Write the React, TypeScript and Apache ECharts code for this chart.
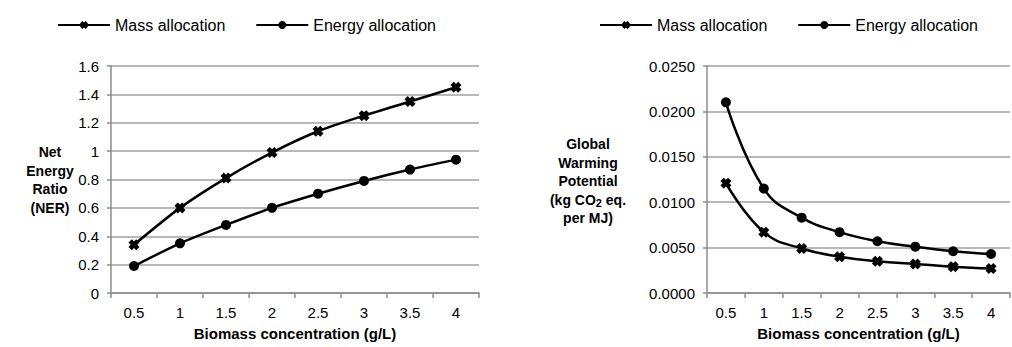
import React, { useEffect, useRef } from "react";
import * as echarts from "echarts";

const categories = ["0.5", "1", "1.5", "2", "2.5", "3", "3.5", "4"];
const nerMass = [0.34, 0.6, 0.81, 0.99, 1.14, 1.25, 1.35, 1.45];
const nerEnergy = [0.19, 0.35, 0.48, 0.6, 0.7, 0.79, 0.87, 0.94];
const gwpMass = [0.0121, 0.0067, 0.0049, 0.004, 0.0035, 0.0032, 0.0029, 0.0027];
const gwpEnergy = [0.021, 0.0115, 0.0083, 0.0067, 0.0057, 0.0051, 0.0046, 0.0043];

const FONT = "'Liberation Sans', Arial, sans-serif";
const crossPath =
  "path://M0,3 L3,0 L5,2 L7,0 L10,3 L8,5 L10,7 L7,10 L5,8 L3,10 L0,7 L2,5 Z";

export default function App() {
  const ref = useRef<HTMLDivElement>(null);
  useEffect(() => {
    if (!ref.current) return;
    const chart = echarts.init(ref.current, undefined, { renderer: "svg" });
    const grid = (left: number, width: number) => ({
      left,
      width,
      top: 66,
      height: 227,
    });
    const xAxis = (gridIndex: number) => ({
      type: "category" as const,
      gridIndex,
      data: categories,
      boundaryGap: true,
      axisLine: { lineStyle: { color: "#8c8c8c", width: 1.5 } },
      axisTick: { show: true, length: 5, lineStyle: { color: "#8c8c8c", width: 1.5 } },
      axisLabel: { color: "#000", fontSize: 15, fontFamily: FONT, margin: 12 },
      name: "Biomass concentration (g/L)",
      nameLocation: "middle" as const,
      nameGap: 33,
      nameTextStyle: { color: "#000", fontSize: 15, fontWeight: "bold", fontFamily: FONT },
    });
    const yAxisBase = {
      type: "value" as const,
      min: 0,
      axisLine: { show: true, lineStyle: { color: "#8c8c8c", width: 1.5 } },
      axisTick: { show: true, length: 4, lineStyle: { color: "#8c8c8c", width: 1.5 } },
      splitLine: { show: true, lineStyle: { color: "#a0a0a0", width: 1.5 } },
    };
    const lineSeries = (
      name: string,
      data: number[],
      idx: number,
      symbol: string,
      symbolSize: number,
      smooth: number
    ) => ({
      name,
      type: "line" as const,
      xAxisIndex: idx,
      yAxisIndex: idx,
      data,
      smooth,
      symbol,
      symbolSize,
      itemStyle: { color: "#000" },
      lineStyle: { color: "#000", width: 2.5 },
    });
    const legend = (left: number) => ({
      left,
      top: 12,
      itemWidth: 52,
      itemHeight: 10,
      itemGap: 30,
      textStyle: { color: "#000", fontSize: 16, fontFamily: FONT },
      data: ["Mass allocation", "Energy allocation"],
    });
    chart.setOption({
      animation: false,
      backgroundColor: "#fff",
      legend: [legend(52), legend(594)],
      grid: [grid(111, 368), grid(707, 303)],
      xAxis: [xAxis(0), xAxis(1)],
      yAxis: [
        {
          ...yAxisBase,
          gridIndex: 0,
          max: 1.6,
          interval: 0.2,
          axisLabel: { color: "#000", fontSize: 15, fontFamily: FONT, margin: 12 },
        },
        {
          ...yAxisBase,
          gridIndex: 1,
          max: 0.025,
          interval: 0.005,
          axisLabel: {
            color: "#000",
            fontSize: 15,
            fontFamily: FONT,
            margin: 12,
            formatter: (v: number) => v.toFixed(4),
          },
        },
      ],
      series: [
        lineSeries("Mass allocation", nerMass, 0, crossPath, 11, 0.25),
        lineSeries("Energy allocation", nerEnergy, 0, "circle", 10, 0.25),
        lineSeries("Mass allocation", gwpMass, 1, crossPath, 11, 0.45),
        lineSeries("Energy allocation", gwpEnergy, 1, "circle", 10, 0.45),
      ],
      graphic: [
        {
          type: "text",
          x: 50,
          y: 180,
          style: {
            text: "Net\nEnergy\nRatio\n(NER)",
            align: "center",
            verticalAlign: "middle",
            fontSize: 14,
            fontWeight: "bold",
            fontFamily: FONT,
            lineHeight: 18.5,
            fill: "#000",
          },
        },
        {
          type: "text",
          x: 588,
          y: 181,
          style: {
            text: "Global\nWarming\nPotential\n(kg CO{sub|2} eq.\nper MJ)",
            align: "center",
            verticalAlign: "middle",
            fontSize: 14,
            fontWeight: "bold",
            fontFamily: FONT,
            lineHeight: 18.5,
            fill: "#000",
            rich: {
              sub: {
                fontSize: 11,
                fontWeight: "bold",
                fontFamily: FONT,
                verticalAlign: "bottom",
                padding: [6, 0, 0, 0],
                lineHeight: 18.5,
                fill: "#000",
              },
            },
          },
        },
      ],
    });
    return () => chart.dispose();
  }, []);
  return (
    <div
      ref={ref}
      style={{ position: "fixed", left: 0, top: 0, width: 1012, height: 347 }}
    />
  );
}
